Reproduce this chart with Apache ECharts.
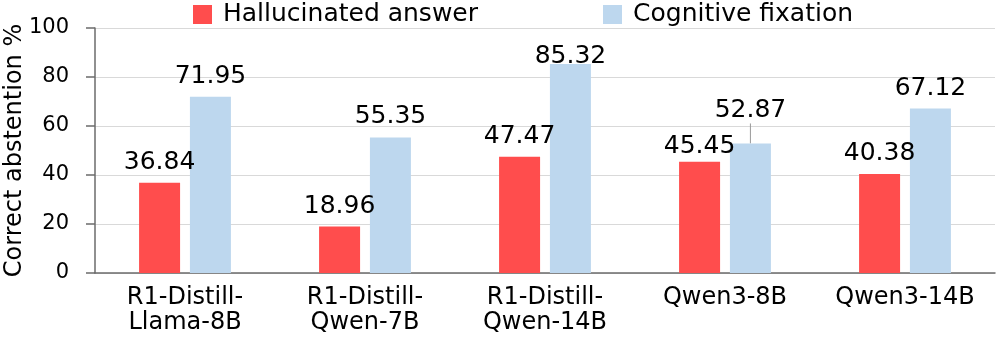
<!DOCTYPE html>
<html>
<head>
<meta charset="utf-8">
<script src="https://cdn.jsdelivr.net/npm/echarts@6/dist/echarts.min.js"></script>
<style>
  html, body { margin: 0; padding: 0; background: #fff; }
  #chart { width: 996px; height: 339px; }
</style>
</head>
<body>
<div id="chart"></div>
<script>
// data
const categories = ['R1-Distill-\nLlama-8B', 'R1-Distill-\nQwen-7B', 'R1-Distill-\nQwen-14B', 'Qwen3-8B', 'Qwen3-14B'];
const hallucinated = [36.84, 18.96, 47.47, 45.45, 40.38];
const fixation = [71.95, 55.35, 85.32, 52.87, 67.12];
const seriesNames = ['Hallucinated answer', 'Cognitive fixation'];

const FONT = 'DejaVu Sans';

// a few labels were nudged by hand in the original
const labelDistance = {
    0: { 3: 3 },
    1: { 2: -5, 3: 8 }
};

function withLabels(values, seriesIdx) {
    return values.map((v, i) => {
        const d = labelDistance[seriesIdx] && labelDistance[seriesIdx][i];
        if (d === undefined) return v;
        const item = { value: v, label: { distance: d } };
        if (seriesIdx === 1 && i === 3) item.labelLine = { show: true };
        return item;
    });
}

const chart = echarts.init(document.getElementById('chart'));

const labelStyle = {
    show: true,
    position: 'top',
    distance: 8,
    fontFamily: FONT,
    fontSize: 25,
    color: '#000'
};

chart.setOption({
    animation: false,
    grid: { left: 95, right: 1, top: 28, bottom: 66, containLabel: false, outerBoundsMode: 'none' },
    legend: {
        data: seriesNames,
        left: 188,
        top: -3,
        itemWidth: 19,
        itemHeight: 19,
        itemGap: 125,
        icon: 'rect',
        textStyle: { fontFamily: FONT, fontSize: 25, color: '#000', padding: [0, 0, 0, 6] }
    },
    xAxis: {
        type: 'category',
        data: categories,
        axisLine: { lineStyle: { color: '#6b6b6b', width: 1.5 } },
        axisTick: { show: false },
        axisLabel: { interval: 0, fontFamily: FONT, fontSize: 24, lineHeight: 25, color: '#000', margin: 12 }
    },
    yAxis: {
        type: 'value',
        min: 0,
        max: 100,
        interval: 20,
        name: 'Correct abstention %',
        nameLocation: 'middle',
        nameGap: 68,
        nameMoveOverlap: false,
        nameTextStyle: { fontFamily: FONT, fontSize: 24, color: '#000' },
        axisLine: { show: true, lineStyle: { color: '#6b6b6b', width: 1.5 } },
        axisTick: { show: true, length: 9, lineStyle: { color: '#6b6b6b', width: 1.5 } },
        axisLabel: { fontFamily: FONT, fontSize: 21, color: '#000', margin: 26 },
        splitLine: { lineStyle: { color: '#d9d9d9', width: 1 } }
    },
    series: [
        {
            name: seriesNames[0],
            type: 'bar',
            barWidth: 41,
            barGap: '24%',
            itemStyle: { color: '#ff4d4d' },
            label: labelStyle,
            data: withLabels(hallucinated, 0)
        },
        {
            name: seriesNames[1],
            type: 'bar',
            barWidth: 41,
            itemStyle: { color: '#bdd7ee' },
            label: labelStyle,
            labelLine: { show: false, lineStyle: { color: '#999', width: 1 } },
            labelLayout: function (params) {
                if (params.dataIndex === 3) return { dy: -12 };
            },
            data: withLabels(fixation, 1)
        }
    ]
});
</script>
</body>
</html>
